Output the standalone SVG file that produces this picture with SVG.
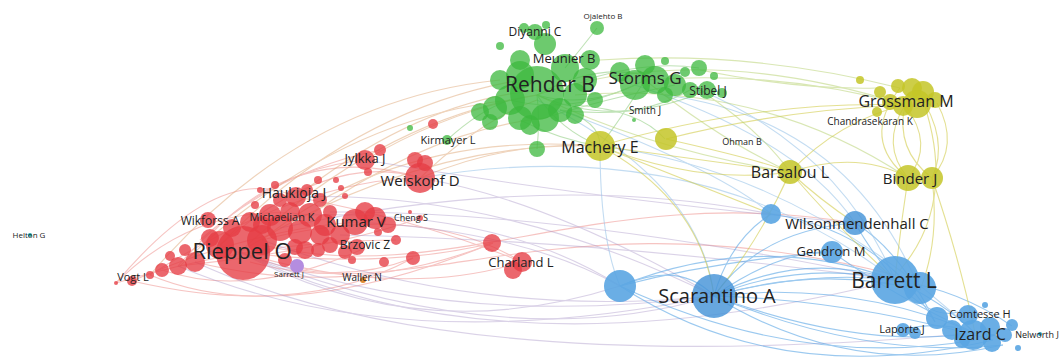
<svg xmlns="http://www.w3.org/2000/svg" width="1062" height="363" viewBox="0 0 1062 363">
<style>
text{font-family:"Open Sans","DejaVu Sans",sans-serif;fill:#222;text-anchor:middle}
.e path{fill:none;stroke-width:1.1}
.er{stroke:#ef8a86;opacity:.5}
.eo{stroke:#e0a878;opacity:.5}
.ep{stroke:#a995c8;opacity:.42}
.eb{stroke:#5aa6e6;opacity:.6}
.elb{stroke:#9cc6ea;opacity:.6}
.ey{stroke:#d3cd4c;opacity:.6}
.eg{stroke:#8ccc7c;opacity:.55}
.egy{stroke:#b4d06a;opacity:.5}
.r circle{fill:#e63c44;opacity:.78}
.g circle{fill:#3cb83e;opacity:.75}
.y circle{fill:#c4c628;opacity:.85}
.b circle{fill:#4594d8;opacity:.82}
.lb circle{fill:#5aa5e2;opacity:.9}
</style>
<rect width="1062" height="363" fill="#fff"/>
<g id="connectors" class="e">
<g class="er">
<path d="M116 283 Q200 200 310 215"/>
<path d="M132 281 Q250 230 355 222"/>
<path d="M150 275 Q300 180 420 178"/>
<path d="M178 266 Q260 170 365 160"/>
<path d="M240 252 Q330 290 413 258"/>
<path d="M240 252 Q380 270 493 243"/>
<path d="M240 252 Q400 300 522 262"/>
<path d="M262 240 Q420 200 522 262"/>
<path d="M210 235 Q300 140 420 178"/>
<path d="M195 262 Q350 300 493 243"/>
<path d="M296 197 Q420 220 522 262"/>
<path d="M116 283 Q220 160 296 197"/>
<path d="M132 281 Q300 320 413 258"/>
<path d="M162 270 Q250 300 365 248"/>
<path d="M250 262 C420 310 560 190 895 275"/>
<path d="M262 245 C450 290 600 180 855 223"/>
<path d="M220 245 Q330 150 420 178"/>
<path d="M178 266 Q330 250 420 218"/>
<path d="M150 275 Q280 330 493 243"/>
<path d="M200 240 Q280 170 380 150"/>
<path d="M116 283 Q260 240 396 240"/>
</g>
<g class="eo">
<path d="M240 252 Q380 120 537 95"/>
<path d="M220 245 Q350 110 520 80"/>
<path d="M296 197 Q420 100 540 90"/>
<path d="M365 160 Q450 110 537 95"/>
<path d="M420 178 Q480 120 537 100"/>
<path d="M180 266 Q330 120 510 100"/>
<path d="M262 240 Q400 130 600 146"/>
<path d="M240 252 Q420 140 600 146"/>
<path d="M420 178 Q510 140 600 146"/>
<path d="M310 215 Q430 130 545 118"/>
<path d="M150 275 Q300 100 500 80"/>
</g>
<g class="ep">
<path d="M240 252 Q450 330 714 296"/>
<path d="M262 240 Q480 320 714 296"/>
<path d="M355 222 Q520 230 620 286"/>
<path d="M310 215 Q500 210 620 286"/>
<path d="M296 197 Q500 190 714 296"/>
<path d="M420 178 Q550 200 714 296"/>
<path d="M240 252 Q500 380 895 280"/>
<path d="M220 245 Q500 360 714 296"/>
<path d="M330 212 Q560 210 895 280"/>
<path d="M365 160 Q600 200 855 223"/>
<path d="M240 252 Q420 350 620 286"/>
<path d="M178 266 Q400 360 714 296"/>
<path d="M280 228 Q550 170 771 214"/>
<path d="M340 235 Q600 240 895 280"/>
<path d="M195 262 Q450 380 975 333"/>
</g>
<g class="eb">
<path d="M714 296 Q800 260 895 280" stroke-width="2.5"/>
<path d="M714 296 Q800 250 895 280" stroke-width="2"/>
<path d="M714 296 Q810 270 895 280" stroke-width="2"/>
<path d="M714 296 Q820 265 920 290" stroke-width="2"/>
<path d="M714 296 Q850 280 975 333" stroke-width="2"/>
<path d="M714 296 Q850 300 993 340" stroke-width="2"/>
<path d="M714 296 Q860 350 975 333" stroke-width="2.5"/>
<path d="M714 296 Q870 360 1003 345" stroke-width="2"/>
<path d="M620 286 Q800 370 975 340"/>
<path d="M714 296 Q850 380 1003 345"/>
<path d="M620 286 Q780 390 993 340"/>
<path d="M714 296 Q760 230 855 223"/>
<path d="M714 296 Q730 240 771 214"/>
<path d="M620 286 Q760 230 895 280"/>
<path d="M620 286 Q720 260 832 252"/>
<path d="M714 296 Q780 250 832 252"/>
<path d="M895 280 Q940 300 975 333" stroke-width="2"/>
<path d="M895 280 Q930 320 958 312" stroke-width="2"/>
<path d="M895 280 Q960 290 1012 326"/>
<path d="M855 223 Q900 250 935 322"/>
<path d="M832 252 Q900 300 975 333"/>
<path d="M771 214 Q880 230 935 322"/>
<path d="M902 330 Q940 320 975 333" stroke-width="1.5"/>
<path d="M855 223 Q870 250 895 280"/>
<path d="M620 286 Q680 260 714 296"/>
</g>
<g class="elb">
<path d="M700 90 Q840 150 895 280"/>
<path d="M665 95 Q850 120 920 290"/>
<path d="M635 85 Q800 140 855 223"/>
<path d="M537 100 Q700 180 714 296"/>
<path d="M560 110 Q720 170 771 214"/>
<path d="M600 146 Q600 240 620 286"/>
<path d="M895 280 Q700 130 420 178"/>
<path d="M975 333 Q800 170 600 146"/>
</g>
<g class="ey">
<path d="M905 105 Q880 145 908 178"/>
<path d="M905 105 Q935 145 908 178"/>
<path d="M918 92 Q950 140 932 178"/>
<path d="M900 88 Q860 140 908 178"/>
<path d="M937 103 Q960 145 932 178"/>
<path d="M905 105 Q895 150 932 178"/>
<path d="M790 172 Q840 120 905 105"/>
<path d="M790 172 Q860 150 908 178"/>
<path d="M666 139 Q780 110 905 105"/>
<path d="M600 146 Q760 100 905 105"/>
<path d="M600 146 Q700 160 790 172"/>
<path d="M600 146 Q700 185 790 172"/>
<path d="M790 172 Q840 230 895 280"/>
<path d="M790 172 Q760 240 714 296"/>
<path d="M908 178 Q900 230 895 280"/>
<path d="M932 178 Q940 240 920 290"/>
<path d="M932 178 Q960 260 975 333"/>
<path d="M920 92 Q960 200 900 270"/>
<path d="M600 146 Q700 200 714 296"/>
<path d="M600 146 Q660 170 771 214"/>
<path d="M666 139 Q760 160 790 172"/>
<path d="M790 172 Q820 200 855 223"/>
</g>
<g class="eg">
<path d="M537 95 Q590 110 645 80"/>
<path d="M537 95 Q600 60 655 78"/>
<path d="M545 118 Q600 100 675 85"/>
<path d="M560 110 Q640 120 707 90"/>
<path d="M537 95 Q620 130 690 90"/>
<path d="M537 95 Q560 130 600 146"/>
<path d="M560 110 Q600 120 600 146"/>
<path d="M645 80 Q620 120 600 146"/>
<path d="M520 120 Q560 140 600 146"/>
<path d="M597 28 Q580 50 565 68"/>
<path d="M510 100 Q570 115 635 85"/>
<path d="M537 149 Q540 120 537 95"/>
<path d="M447 140 Q480 110 510 100"/>
<path d="M585 80 Q650 60 699 68"/>
<path d="M575 105 Q640 110 665 139"/>
</g>
<g class="egy">
<path d="M537 95 Q700 40 905 105"/>
<path d="M600 60 Q750 50 900 88"/>
<path d="M645 80 Q780 70 905 105"/>
<path d="M700 70 Q800 90 877 88"/>
<path d="M537 95 Q650 150 790 172"/>
<path d="M645 80 Q720 140 790 172"/>
<path d="M700 90 Q760 130 790 172"/>
<path d="M575 95 Q760 80 908 178"/>
</g>
</g>
<g id="cluster-red" class="r">
<circle cx="116" cy="283" r="2"/><circle cx="132" cy="281" r="5"/><circle cx="150" cy="275" r="4"/>
<circle cx="162" cy="270" r="7"/><circle cx="178" cy="266" r="9"/><circle cx="195" cy="262" r="10"/>
<circle cx="185" cy="250" r="6"/><circle cx="208" cy="220" r="8"/><circle cx="210" cy="238" r="9"/>
<circle cx="220" cy="245" r="14"/><circle cx="232" cy="228" r="9"/><circle cx="250" cy="222" r="10"/>
<circle cx="262" cy="240" r="15"/><circle cx="270" cy="215" r="11"/><circle cx="280" cy="228" r="13"/>
<circle cx="290" cy="212" r="10"/><circle cx="300" cy="232" r="12"/><circle cx="310" cy="215" r="12"/>
<circle cx="325" cy="225" r="11"/><circle cx="340" cy="235" r="10"/><circle cx="330" cy="245" r="8"/>
<circle cx="345" cy="252" r="7"/><circle cx="318" cy="250" r="7"/><circle cx="295" cy="247" r="8"/>
<circle cx="285" cy="260" r="7"/><circle cx="375" cy="218" r="11"/><circle cx="280" cy="200" r="7"/>
<circle cx="307" cy="190" r="6"/><circle cx="320" cy="200" r="7"/><circle cx="330" cy="212" r="7"/>
<circle cx="318" cy="180" r="4"/><circle cx="275" cy="185" r="4"/><circle cx="260" cy="190" r="3"/>
<circle cx="255" cy="205" r="4"/><circle cx="341" cy="188" r="3"/><circle cx="336" cy="180" r="3"/>
<circle cx="345" cy="196" r="3"/><circle cx="368" cy="172" r="4"/><circle cx="380" cy="150" r="6"/>
<circle cx="415" cy="160" r="8"/><circle cx="425" cy="163" r="8"/><circle cx="396" cy="240" r="5"/>
<circle cx="384" cy="262" r="5"/><circle cx="378" cy="232" r="4"/><circle cx="352" cy="260" r="4"/>
<circle cx="420" cy="218" r="3"/><circle cx="410" cy="212" r="2"/><circle cx="433" cy="124" r="5"/>
<circle cx="365" cy="212" r="10"/><circle cx="388" cy="225" r="8"/><circle cx="320" cy="235" r="10"/>
<circle cx="305" cy="250" r="9"/><circle cx="262" cy="225" r="9"/><circle cx="170" cy="256" r="5"/>
<circle cx="243" cy="253" r="27"/>
<g id="node-rieppel"><circle cx="243" cy="253" r="0"/></g>
<g id="node-kumar"><circle cx="355" cy="222" r="13"/></g>
<g id="node-haukioja"><circle cx="296" cy="197" r="10"/></g>
<g id="node-jylkka"><circle cx="365" cy="160" r="10"/></g>
<g id="node-weiskopf"><circle cx="420" cy="178" r="15"/></g>
<g id="node-brzovic"><circle cx="357" cy="247" r="8"/></g>
<g id="node-red-413"><circle cx="413" cy="258" r="7"/></g>
<g id="node-red-493"><circle cx="492" cy="243" r="9"/></g>
<g id="node-charland"><circle cx="513" cy="270" r="9"/><circle cx="522" cy="262" r="10"/></g>
</g>
<g id="cluster-green" class="g">
<circle cx="480" cy="112" r="9"/><circle cx="490" cy="122" r="8"/><circle cx="495" cy="108" r="12"/>
<circle cx="510" cy="100" r="15"/><circle cx="500" cy="80" r="10"/><circle cx="530" cy="125" r="10"/>
<circle cx="520" cy="75" r="14"/><circle cx="520" cy="60" r="10"/><circle cx="545" cy="118" r="14"/>
<circle cx="520" cy="118" r="12"/><circle cx="560" cy="110" r="12"/><circle cx="575" cy="95" r="12"/>
<circle cx="575" cy="115" r="9"/><circle cx="595" cy="100" r="8"/>
<circle cx="585" cy="80" r="12"/><circle cx="590" cy="60" r="10"/><circle cx="545" cy="44" r="11"/>
<circle cx="537" cy="93" r="27"/>
<g id="node-meunier"><circle cx="565" cy="68" r="14"/></g>
<g id="node-diyanni"><circle cx="535" cy="32" r="8"/><circle cx="524" cy="28" r="5"/><circle cx="546" cy="25" r="4"/></g>
<g id="node-ojalehto"><circle cx="597" cy="28" r="7"/></g>
<circle cx="500" cy="46" r="4"/>
<g id="node-storms"><circle cx="620" cy="72" r="10"/><circle cx="645" cy="65" r="10"/><circle cx="655" cy="80" r="14"/><circle cx="635" cy="85" r="15"/><circle cx="675" cy="85" r="11"/><circle cx="665" cy="95" r="8"/><circle cx="690" cy="90" r="8"/><circle cx="685" cy="72" r="5"/></g>
<circle cx="699" cy="68" r="8"/><circle cx="665" cy="61" r="4"/><circle cx="714" cy="76" r="4"/>
<g id="node-stibel"><circle cx="707" cy="90" r="9"/><circle cx="722" cy="93" r="5"/></g>
<circle cx="537" cy="149" r="8"/><circle cx="410" cy="128" r="3"/>
<g id="node-kirmayer"><circle cx="447" cy="140" r="5"/></g>
<g id="node-smith"><circle cx="634" cy="120" r="2"/></g>
</g>
<g id="cluster-yellow" class="y">
<g id="node-machery"><circle cx="600" cy="146" r="15"/></g>
<circle cx="666" cy="139" r="11"/>
<g id="node-grossman"><circle cx="860" cy="80" r="4"/><circle cx="880" cy="92" r="6"/><circle cx="898" cy="86" r="7"/><circle cx="912" cy="88" r="10"/><circle cx="923" cy="92" r="11"/><circle cx="935" cy="100" r="8"/><circle cx="890" cy="102" r="8"/><circle cx="877" cy="112" r="5"/><circle cx="903" cy="106" r="10"/><circle cx="917" cy="104" r="14"/></g>
<g id="node-barsalou"><circle cx="790" cy="172" r="12"/></g>
<g id="node-binder"><circle cx="932" cy="178" r="11"/><circle cx="908" cy="178" r="13"/></g>
</g>
<g id="cluster-blue" class="b">
<g id="node-blue-620" class="lb"><circle cx="620" cy="286" r="16"/></g>
<g id="node-scarantino"><circle cx="714" cy="296" r="22"/></g>
<g id="node-blue-771" class="lb"><circle cx="771" cy="214" r="10"/></g>
<g id="node-wilsonmendenhall"><circle cx="855" cy="223" r="12"/></g>
<g id="node-gendron" class="lb"><circle cx="832" cy="252" r="11"/></g>
<g id="node-barrett" class="lb"><circle cx="920" cy="288" r="16"/><circle cx="895" cy="280" r="24"/></g>
<g id="node-laporte" class="lb"><circle cx="903" cy="330" r="7"/><circle cx="915" cy="333" r="6"/></g>
<g id="node-izard" class="lb"><circle cx="937" cy="318" r="11"/><circle cx="952" cy="330" r="10"/><circle cx="968" cy="315" r="10"/><circle cx="962" cy="340" r="8"/><circle cx="973" cy="335" r="15"/><circle cx="990" cy="327" r="10"/><circle cx="992" cy="343" r="9"/><circle cx="1005" cy="335" r="7"/><circle cx="1012" cy="325" r="6"/><circle cx="1018" cy="348" r="3"/><circle cx="985" cy="305" r="3"/></g>
</g>
<g id="node-nelworth"><circle cx="1040" cy="334" r="2" fill="#2a9fb8"/></g>
<g id="node-helton"><circle cx="30" cy="235" r="2" fill="#22aab0"/></g>
<g id="node-sarrett"><circle cx="297" cy="266" r="7" fill="#b48de0"/></g>
<g id="node-waller"><circle cx="363" cy="280" r="3" fill="#e08a30"/></g>
<g id="labels">
<text x="242" y="259" font-size="22">Rieppel O</text>
<text x="550" y="92" font-size="21">Rehder B</text>
<text x="894" y="288" font-size="21">Barrett L</text>
<text x="717" y="303" font-size="20">Scarantino A</text>
<text x="645" y="84" font-size="17">Storms G</text>
<text x="906" y="107" font-size="16">Grossman M</text>
<text x="600" y="153" font-size="16">Machery E</text>
<text x="790" y="178" font-size="16">Barsalou L</text>
<text x="910" y="184" font-size="15">Binder J</text>
<text x="857" y="229" font-size="15">Wilsonmendenhall C</text>
<text x="831" y="256" font-size="13">Gendron M</text>
<text x="980" y="340" font-size="16">Izard C</text>
<text x="980" y="318" font-size="11">Comtesse H</text>
<text x="902" y="333" font-size="11">Laporte J</text>
<text x="1037" y="338" font-size="9">Nelworth J</text>
<text x="521" y="267" font-size="13">Charland L</text>
<text x="356" y="227" font-size="15">Kumar V</text>
<text x="420" y="186" font-size="15">Weiskopf D</text>
<text x="365" y="163" font-size="13">Jylkka J</text>
<text x="294" y="198" font-size="14">Haukioja J</text>
<text x="210" y="225" font-size="12">Wikforss A</text>
<text x="282" y="221" font-size="11">Michaelian K</text>
<text x="411" y="221" font-size="9">Cheng S</text>
<text x="365" y="249" font-size="12">Brzovic Z</text>
<text x="133" y="281" font-size="11">Vogt L</text>
<text x="289" y="277" font-size="8">Sarrett J</text>
<text x="362" y="281" font-size="10">Waller N</text>
<text x="29" y="238" font-size="8">Helton G</text>
<text x="448" y="144" font-size="11">Kirmayer L</text>
<text x="535" y="36" font-size="12">Diyanni C</text>
<text x="603" y="19" font-size="8">Ojalehto B</text>
<text x="564" y="63" font-size="13">Meunier B</text>
<text x="645" y="114" font-size="10">Smith J</text>
<text x="708" y="95" font-size="12">Stibel J</text>
<text x="870" y="125" font-size="10">Chandrasekaran K</text>
<text x="742" y="145" font-size="9">Ohman B</text>
</g>
</svg>
